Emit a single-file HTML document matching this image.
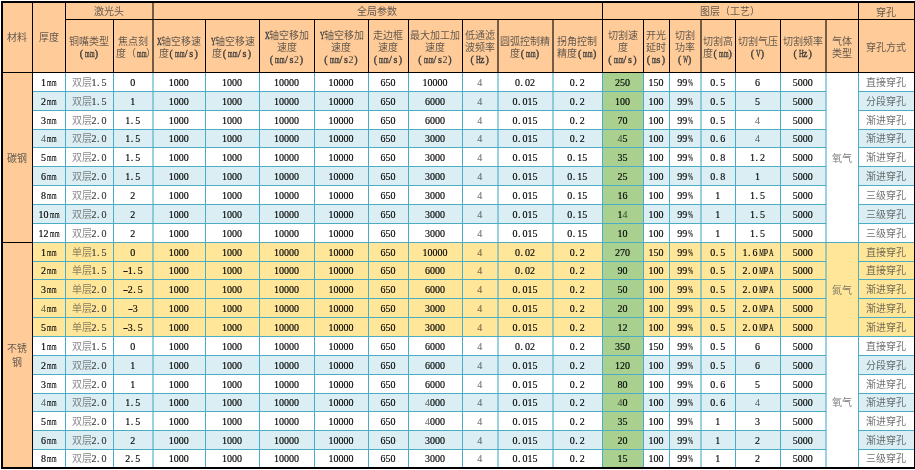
<!DOCTYPE html>
<html lang="zh-CN"><head><meta charset="utf-8"><style>
html,body{margin:0;padding:0;background:#fff;width:915px;height:470px;overflow:hidden}
body{position:relative;font-family:"Liberation Serif",serif;font-size:10px;color:#000}
.r{position:absolute}
#tx{position:absolute;left:0;top:0;width:915px;height:470px;will-change:transform}
.t{-webkit-text-stroke:.15px currentColor;position:absolute;text-align:center;white-space:nowrap;overflow:hidden}
.h{position:absolute;text-align:center;white-space:nowrap;color:#3a3a3a;box-sizing:content-box}
i{font-style:normal;display:inline-block;width:5px;text-align:center;position:relative}
i.d{text-align:left;text-indent:.5px}
b{font-weight:normal;display:inline-block;width:5px;text-align:center;position:relative}
b{transform-origin:50% 50%}
u{text-decoration:none;opacity:var(--co,.72);-webkit-text-stroke:0}
s{text-decoration:none;opacity:.55}
.h u{opacity:.8}
.h i{-webkit-text-stroke:.35px currentColor}
</style></head><body>
<div class="r" style="left:2px;top:2px;width:912px;height:70px;background:#FFCC99;"></div>
<div class="r" style="left:2px;top:72px;width:30px;height:395px;background:#FFCC99;"></div>
<div class="r" style="left:32px;top:72px;width:882px;height:19px;background:#FFFFFF;"></div>
<div class="r" style="left:32px;top:91px;width:882px;height:19px;background:#DAEEF3;"></div>
<div class="r" style="left:32px;top:110px;width:882px;height:19px;background:#FFFFFF;"></div>
<div class="r" style="left:32px;top:129px;width:882px;height:18px;background:#DAEEF3;"></div>
<div class="r" style="left:32px;top:147px;width:882px;height:19px;background:#FFFFFF;"></div>
<div class="r" style="left:32px;top:166px;width:882px;height:19px;background:#DAEEF3;"></div>
<div class="r" style="left:32px;top:185px;width:882px;height:19px;background:#FFFFFF;"></div>
<div class="r" style="left:32px;top:204px;width:882px;height:19px;background:#DAEEF3;"></div>
<div class="r" style="left:32px;top:223px;width:882px;height:19px;background:#FFFFFF;"></div>
<div class="r" style="left:32px;top:242px;width:882px;height:19px;background:#FFE699;"></div>
<div class="r" style="left:32px;top:261px;width:882px;height:18px;background:#FFE699;"></div>
<div class="r" style="left:32px;top:279px;width:882px;height:19px;background:#FFE699;"></div>
<div class="r" style="left:32px;top:298px;width:882px;height:19px;background:#FFE699;"></div>
<div class="r" style="left:32px;top:317px;width:882px;height:19px;background:#FFE699;"></div>
<div class="r" style="left:32px;top:336px;width:882px;height:19px;background:#FFFFFF;"></div>
<div class="r" style="left:32px;top:355px;width:882px;height:19px;background:#DAEEF3;"></div>
<div class="r" style="left:32px;top:374px;width:882px;height:19px;background:#FFFFFF;"></div>
<div class="r" style="left:32px;top:393px;width:882px;height:18px;background:#DAEEF3;"></div>
<div class="r" style="left:32px;top:411px;width:882px;height:19px;background:#FFFFFF;"></div>
<div class="r" style="left:32px;top:430px;width:882px;height:19px;background:#DAEEF3;"></div>
<div class="r" style="left:32px;top:449px;width:882px;height:18px;background:#FFFFFF;"></div>
<div class="r" style="left:602px;top:72px;width:41px;height:395px;background:#A9D08E;"></div>
<div class="r" style="left:825.5px;top:72px;width:32.5px;height:170px;background:#FFFFFF;"></div>
<div class="r" style="left:825.5px;top:242px;width:32.5px;height:94px;background:#FFE699;"></div>
<div class="r" style="left:825.5px;top:336px;width:32.5px;height:131px;background:#FFFFFF;"></div>
<div class="r" style="left:32px;top:91px;width:794px;height:1px;background:#4BACC6"></div>
<div class="r" style="left:858px;top:91px;width:56px;height:1px;background:#4BACC6"></div>
<div class="r" style="left:32px;top:110px;width:794px;height:1px;background:#4BACC6"></div>
<div class="r" style="left:858px;top:110px;width:56px;height:1px;background:#4BACC6"></div>
<div class="r" style="left:32px;top:129px;width:794px;height:1px;background:#4BACC6"></div>
<div class="r" style="left:858px;top:129px;width:56px;height:1px;background:#4BACC6"></div>
<div class="r" style="left:32px;top:147px;width:794px;height:1px;background:#4BACC6"></div>
<div class="r" style="left:858px;top:147px;width:56px;height:1px;background:#4BACC6"></div>
<div class="r" style="left:32px;top:166px;width:794px;height:1px;background:#4BACC6"></div>
<div class="r" style="left:858px;top:166px;width:56px;height:1px;background:#4BACC6"></div>
<div class="r" style="left:32px;top:185px;width:794px;height:1px;background:#4BACC6"></div>
<div class="r" style="left:858px;top:185px;width:56px;height:1px;background:#4BACC6"></div>
<div class="r" style="left:32px;top:204px;width:794px;height:1px;background:#4BACC6"></div>
<div class="r" style="left:858px;top:204px;width:56px;height:1px;background:#4BACC6"></div>
<div class="r" style="left:32px;top:223px;width:794px;height:1px;background:#4BACC6"></div>
<div class="r" style="left:858px;top:223px;width:56px;height:1px;background:#4BACC6"></div>
<div class="r" style="left:32px;top:242px;width:794px;height:1px;background:#4BACC6"></div>
<div class="r" style="left:858px;top:242px;width:56px;height:1px;background:#4BACC6"></div>
<div class="r" style="left:32px;top:261px;width:794px;height:1px;background:#4BACC6"></div>
<div class="r" style="left:858px;top:261px;width:56px;height:1px;background:#4BACC6"></div>
<div class="r" style="left:32px;top:279px;width:794px;height:1px;background:#4BACC6"></div>
<div class="r" style="left:858px;top:279px;width:56px;height:1px;background:#4BACC6"></div>
<div class="r" style="left:32px;top:298px;width:794px;height:1px;background:#4BACC6"></div>
<div class="r" style="left:858px;top:298px;width:56px;height:1px;background:#4BACC6"></div>
<div class="r" style="left:32px;top:317px;width:794px;height:1px;background:#4BACC6"></div>
<div class="r" style="left:858px;top:317px;width:56px;height:1px;background:#4BACC6"></div>
<div class="r" style="left:32px;top:336px;width:794px;height:1px;background:#4BACC6"></div>
<div class="r" style="left:858px;top:336px;width:56px;height:1px;background:#4BACC6"></div>
<div class="r" style="left:32px;top:355px;width:794px;height:1px;background:#4BACC6"></div>
<div class="r" style="left:858px;top:355px;width:56px;height:1px;background:#4BACC6"></div>
<div class="r" style="left:32px;top:374px;width:794px;height:1px;background:#4BACC6"></div>
<div class="r" style="left:858px;top:374px;width:56px;height:1px;background:#4BACC6"></div>
<div class="r" style="left:32px;top:393px;width:794px;height:1px;background:#4BACC6"></div>
<div class="r" style="left:858px;top:393px;width:56px;height:1px;background:#4BACC6"></div>
<div class="r" style="left:32px;top:411px;width:794px;height:1px;background:#4BACC6"></div>
<div class="r" style="left:858px;top:411px;width:56px;height:1px;background:#4BACC6"></div>
<div class="r" style="left:32px;top:430px;width:794px;height:1px;background:#4BACC6"></div>
<div class="r" style="left:858px;top:430px;width:56px;height:1px;background:#4BACC6"></div>
<div class="r" style="left:32px;top:449px;width:794px;height:1px;background:#4BACC6"></div>
<div class="r" style="left:858px;top:449px;width:56px;height:1px;background:#4BACC6"></div>
<div class="r" style="left:825px;top:242px;width:33px;height:1px;background:#4BACC6"></div>
<div class="r" style="left:825px;top:336px;width:33px;height:1px;background:#4BACC6"></div>
<div class="r" style="left:65px;top:72px;width:1px;height:395px;background:#4BACC6"></div>
<div class="r" style="left:113px;top:72px;width:1px;height:395px;background:#4BACC6"></div>
<div class="r" style="left:152px;top:72px;width:2px;height:395px;background:#4BACC6;opacity:.55"></div>
<div class="r" style="left:205px;top:72px;width:1px;height:395px;background:#4BACC6"></div>
<div class="r" style="left:259px;top:72px;width:1px;height:395px;background:#4BACC6"></div>
<div class="r" style="left:314px;top:72px;width:1px;height:395px;background:#4BACC6"></div>
<div class="r" style="left:368px;top:72px;width:1px;height:395px;background:#4BACC6"></div>
<div class="r" style="left:408px;top:72px;width:1px;height:395px;background:#4BACC6"></div>
<div class="r" style="left:462px;top:72px;width:1px;height:395px;background:#4BACC6"></div>
<div class="r" style="left:497px;top:72px;width:2px;height:395px;background:#4BACC6;opacity:.55"></div>
<div class="r" style="left:552px;top:72px;width:2px;height:395px;background:#4BACC6;opacity:.55"></div>
<div class="r" style="left:602px;top:72px;width:1px;height:395px;background:#4BACC6"></div>
<div class="r" style="left:643px;top:72px;width:1px;height:395px;background:#4BACC6"></div>
<div class="r" style="left:669px;top:72px;width:1px;height:395px;background:#4BACC6"></div>
<div class="r" style="left:700px;top:72px;width:2px;height:395px;background:#4BACC6;opacity:.55"></div>
<div class="r" style="left:735px;top:72px;width:1px;height:395px;background:#4BACC6"></div>
<div class="r" style="left:780px;top:72px;width:1px;height:395px;background:#4BACC6"></div>
<div class="r" style="left:825px;top:72px;width:2px;height:395px;background:#4BACC6;opacity:.55"></div>
<div class="r" style="left:858px;top:72px;width:1px;height:395px;background:#4BACC6"></div>
<div class="r" style="left:32px;top:2px;width:1px;height:465px;background:#000000"></div>
<div class="r" style="left:65px;top:2px;width:1px;height:70px;background:#000000"></div>
<div class="r" style="left:113px;top:19px;width:1px;height:53px;background:#000000"></div>
<div class="r" style="left:152px;top:2px;width:2px;height:70px;background:#000000;opacity:.55"></div>
<div class="r" style="left:205px;top:19px;width:1px;height:53px;background:#000000"></div>
<div class="r" style="left:259px;top:19px;width:1px;height:53px;background:#000000"></div>
<div class="r" style="left:314px;top:19px;width:1px;height:53px;background:#000000"></div>
<div class="r" style="left:368px;top:19px;width:1px;height:53px;background:#000000"></div>
<div class="r" style="left:408px;top:19px;width:1px;height:53px;background:#000000"></div>
<div class="r" style="left:462px;top:19px;width:1px;height:53px;background:#000000"></div>
<div class="r" style="left:497px;top:19px;width:2px;height:53px;background:#000000;opacity:.55"></div>
<div class="r" style="left:552px;top:19px;width:2px;height:53px;background:#000000;opacity:.55"></div>
<div class="r" style="left:602px;top:2px;width:1px;height:70px;background:#000000"></div>
<div class="r" style="left:643px;top:19px;width:1px;height:53px;background:#000000"></div>
<div class="r" style="left:669px;top:19px;width:1px;height:53px;background:#000000"></div>
<div class="r" style="left:700px;top:19px;width:2px;height:53px;background:#000000;opacity:.55"></div>
<div class="r" style="left:735px;top:19px;width:1px;height:53px;background:#000000"></div>
<div class="r" style="left:780px;top:19px;width:1px;height:53px;background:#000000"></div>
<div class="r" style="left:825px;top:19px;width:2px;height:53px;background:#000000;opacity:.55"></div>
<div class="r" style="left:858px;top:2px;width:1px;height:70px;background:#000000"></div>
<div class="r" style="left:65px;top:19px;width:849px;height:1px;background:#000000"></div>
<div class="r" style="left:2px;top:72px;width:912px;height:1px;background:#000000"></div>
<div class="r" style="left:2px;top:242px;width:30px;height:1px;background:#000000"></div>
<div class="r" style="left:1px;top:1px;width:915px;height:468px;border:2px solid #000;box-sizing:border-box;background:transparent"></div>
<div id="tx"><div class="h" style="left:2px;top:2px;width:30px;height:70px;padding-top:30.25px;line-height:12.5px;height:39.75px;"><u>材料</u></div>
<div class="h" style="left:32px;top:2px;width:33px;height:70px;padding-top:30.25px;line-height:12.5px;height:39.75px;"><u>厚度</u></div>
<div class="h" style="left:65px;top:2px;width:87.5px;height:17px;padding-top:4.25px;line-height:12.5px;height:12.75px;"><u>激光头</u></div>
<div class="h" style="left:152.5px;top:2px;width:449.5px;height:17px;padding-top:4.25px;line-height:12.5px;height:12.75px;"><u>全局参数</u></div>
<div class="h" style="left:602px;top:2px;width:256px;height:17px;padding-top:4.25px;line-height:12.5px;height:12.75px;"><u>图层（工艺）</u></div>
<div class="h" style="left:858px;top:2px;width:56px;height:17px;padding-top:4.75px;line-height:12.5px;height:12.25px;"><u>穿孔</u></div>
<div class="h" style="left:65px;top:19px;width:48px;height:53px;padding-top:17.0px;line-height:12px;height:36.0px;"><u>铜嘴类型</u><br><i>(</i><i><b style="transform:scaleX(0.59)">m</b></i><i><b style="transform:scaleX(0.59)">m</b></i><i>)</i></div>
<div class="h" style="left:113px;top:19px;width:39.5px;height:53px;padding-top:17.0px;line-height:12px;height:36.0px;"><u>焦点刻</u><br><span style="position:relative;left:2.5px"><u>度（</u><i><b style="transform:scaleX(0.59)">m</b></i><i><b style="transform:scaleX(0.59)">m</b></i><u>）</u></span></div>
<div class="h" style="left:152.5px;top:19px;width:52.5px;height:53px;padding-top:17.0px;line-height:12px;height:36.0px;"><i><b style="transform:scaleX(0.64)">X</b></i><u>轴空移速</u><br><u>度</u><i>(</i><i><b style="transform:scaleX(0.59)">m</b></i><i><b style="transform:scaleX(0.59)">m</b></i><i>/</i><i>s</i><i>)</i></div>
<div class="h" style="left:205px;top:19px;width:54px;height:53px;padding-top:17.0px;line-height:12px;height:36.0px;"><i><b style="transform:scaleX(0.64)">Y</b></i><u>轴空移速</u><br><u>度</u><i>(</i><i><b style="transform:scaleX(0.59)">m</b></i><i><b style="transform:scaleX(0.59)">m</b></i><i>/</i><i>s</i><i>)</i></div>
<div class="h" style="left:259px;top:19px;width:55px;height:53px;padding-top:11.0px;line-height:12px;height:42.0px;"><i><b style="transform:scaleX(0.64)">X</b></i><u>轴空移加</u><br><u>速度</u><br><i>(</i><i><b style="transform:scaleX(0.59)">m</b></i><i><b style="transform:scaleX(0.59)">m</b></i><i>/</i><i>s</i>2<i>)</i></div>
<div class="h" style="left:314px;top:19px;width:54px;height:53px;padding-top:11.0px;line-height:12px;height:42.0px;"><i><b style="transform:scaleX(0.64)">Y</b></i><u>轴空移加</u><br><u>速度</u><br><i>(</i><i><b style="transform:scaleX(0.59)">m</b></i><i><b style="transform:scaleX(0.59)">m</b></i><i>/</i><i>s</i>2<i>)</i></div>
<div class="h" style="left:368px;top:19px;width:40px;height:53px;padding-top:11.0px;line-height:12px;height:42.0px;"><u>走边框</u><br><u>速度</u><br><i>(</i><i><b style="transform:scaleX(0.59)">m</b></i><i><b style="transform:scaleX(0.59)">m</b></i><i>/</i><i>s</i><i>)</i></div>
<div class="h" style="left:408px;top:19px;width:54px;height:53px;padding-top:11.0px;line-height:12px;height:42.0px;"><u>最大加工加</u><br><u>速度</u><br><i>(</i><i><b style="transform:scaleX(0.59)">m</b></i><i><b style="transform:scaleX(0.59)">m</b></i><i>/</i><i>s</i>2<i>)</i></div>
<div class="h" style="left:462px;top:19px;width:35.5px;height:53px;padding-top:11.0px;line-height:12px;height:42.0px;"><u>低通滤</u><br><u>波频率</u><br><i>(</i><i><b style="transform:scaleX(0.64)">H</b></i><i>z</i><i>)</i></div>
<div class="h" style="left:497.5px;top:19px;width:55.0px;height:53px;padding-top:17.0px;line-height:12px;height:36.0px;"><u>圆弧控制精</u><br><u>度</u><i>(</i><i><b style="transform:scaleX(0.59)">m</b></i><i><b style="transform:scaleX(0.59)">m</b></i><i>)</i></div>
<div class="h" style="left:552.5px;top:19px;width:49.5px;height:53px;padding-top:17.0px;line-height:12px;height:36.0px;"><u>拐角控制</u><br><u>精度</u><i>(</i><i><b style="transform:scaleX(0.59)">m</b></i><i><b style="transform:scaleX(0.59)">m</b></i><i>)</i></div>
<div class="h" style="left:602px;top:19px;width:41px;height:53px;padding-top:11.0px;line-height:12px;height:42.0px;"><u>切割速</u><br><u>度</u><br><i>(</i><i><b style="transform:scaleX(0.59)">m</b></i><i><b style="transform:scaleX(0.59)">m</b></i><i>/</i><i>s</i><i>)</i></div>
<div class="h" style="left:643px;top:19px;width:26px;height:53px;padding-top:11.0px;line-height:12px;height:42.0px;"><u>开光</u><br><u>延时</u><br><i>(</i><i><b style="transform:scaleX(0.59)">m</b></i><i>s</i><i>)</i></div>
<div class="h" style="left:669px;top:19px;width:31.5px;height:53px;padding-top:11.0px;line-height:12px;height:42.0px;"><u>切割</u><br><u>功率</u><br><i>(</i><i><b style="transform:scaleX(0.49)">W</b></i><i>)</i></div>
<div class="h" style="left:700.5px;top:19px;width:34.5px;height:53px;padding-top:17.0px;line-height:12px;height:36.0px;"><u>切割高</u><br><u>度</u><i>(</i><i><b style="transform:scaleX(0.59)">m</b></i><i><b style="transform:scaleX(0.59)">m</b></i><i>)</i></div>
<div class="h" style="left:735px;top:19px;width:45px;height:53px;padding-top:17.0px;line-height:12px;height:36.0px;"><u>切割气压</u><br><i>(</i><i><b style="transform:scaleX(0.64)">V</b></i><i>)</i></div>
<div class="h" style="left:780px;top:19px;width:45.5px;height:53px;padding-top:17.0px;line-height:12px;height:36.0px;"><u>切割频率</u><br><i>(</i><i><b style="transform:scaleX(0.64)">H</b></i><i>z</i><i>)</i></div>
<div class="h" style="left:825.5px;top:19px;width:32.5px;height:53px;padding-top:17.0px;line-height:12px;height:36.0px;"><u>气体</u><br><u>类型</u></div>
<div class="h" style="left:858px;top:19px;width:56px;height:53px;padding-top:23.0px;line-height:12px;height:30.0px;"><u>穿孔方式</u></div>
<div class="h" style="left:2px;top:72px;width:30px;height:170px;padding-top:80.75px;line-height:12.5px;height:89.25px;color:#404040;"><u>碳钢</u></div>
<div class="h" style="left:2px;top:242px;width:30px;height:225px;padding-top:100.0px;line-height:14px;height:125.0px;color:#404040;"><u>不锈</u><br><u>钢</u></div>
<div class="h" style="left:825.5px;top:72px;width:32.5px;height:170px;padding-top:80.75px;line-height:12.5px;height:89.25px;color:#595959;"><u>氧气</u></div>
<div class="h" style="left:825.5px;top:242px;width:32.5px;height:94px;padding-top:42.75px;line-height:12.5px;height:51.25px;color:#595959;"><u>氮气</u></div>
<div class="h" style="left:825.5px;top:336px;width:32.5px;height:131px;padding-top:61.25px;line-height:12.5px;height:69.75px;color:#595959;"><u>氧气</u></div>
<div class="t" style="left:32px;top:73px;width:33px;height:19px;line-height:19px;">1<i><b style="transform:scaleX(0.59)">m</b></i><i><b style="transform:scaleX(0.59)">m</b></i></div>
<div class="t" style="left:65px;top:73px;width:48px;height:19px;line-height:19px;color:#3a3a3a;--co:.6;"><u>双层</u>1<i class="d">.</i>5</div>
<div class="t" style="left:113px;top:73px;width:39.5px;height:19px;line-height:19px;">0</div>
<div class="t" style="left:152.5px;top:73px;width:52.5px;height:19px;line-height:19px;">1000</div>
<div class="t" style="left:205px;top:73px;width:54px;height:19px;line-height:19px;">1000</div>
<div class="t" style="left:259px;top:73px;width:55px;height:19px;line-height:19px;">10000</div>
<div class="t" style="left:314px;top:73px;width:54px;height:19px;line-height:19px;">10000</div>
<div class="t" style="left:368px;top:73px;width:40px;height:19px;line-height:19px;">650</div>
<div class="t" style="left:408px;top:73px;width:54px;height:19px;line-height:19px;">10000</div>
<div class="t" style="left:462px;top:73px;width:35.5px;height:19px;line-height:19px;"><s>4</s></div>
<div class="t" style="left:497.5px;top:73px;width:55.0px;height:19px;line-height:19px;">0<i class="d">.</i>02</div>
<div class="t" style="left:552.5px;top:73px;width:49.5px;height:19px;line-height:19px;">0<i class="d">.</i>2</div>
<div class="t" style="left:602px;top:73px;width:41px;height:19px;line-height:19px;">250</div>
<div class="t" style="left:643px;top:73px;width:26px;height:19px;line-height:19px;">150</div>
<div class="t" style="left:669px;top:73px;width:31.5px;height:19px;line-height:19px;">99<i><b style="transform:scaleX(0.55)">%</b></i></div>
<div class="t" style="left:700.5px;top:73px;width:34.5px;height:19px;line-height:19px;">0<i class="d">.</i>5</div>
<div class="t" style="left:735px;top:73px;width:45px;height:19px;line-height:19px;">6</div>
<div class="t" style="left:780px;top:73px;width:45.5px;height:19px;line-height:19px;">5000</div>
<div class="t" style="left:858px;top:73px;width:56px;height:19px;line-height:19px;color:#383838;"><u>直接穿孔</u></div>
<div class="t" style="left:32px;top:92px;width:33px;height:19px;line-height:19px;">2<i><b style="transform:scaleX(0.59)">m</b></i><i><b style="transform:scaleX(0.59)">m</b></i></div>
<div class="t" style="left:65px;top:92px;width:48px;height:19px;line-height:19px;color:#3a3a3a;--co:.6;"><u>双层</u>1<i class="d">.</i>5</div>
<div class="t" style="left:113px;top:92px;width:39.5px;height:19px;line-height:19px;">1</div>
<div class="t" style="left:152.5px;top:92px;width:52.5px;height:19px;line-height:19px;">1000</div>
<div class="t" style="left:205px;top:92px;width:54px;height:19px;line-height:19px;">1000</div>
<div class="t" style="left:259px;top:92px;width:55px;height:19px;line-height:19px;">10000</div>
<div class="t" style="left:314px;top:92px;width:54px;height:19px;line-height:19px;">10000</div>
<div class="t" style="left:368px;top:92px;width:40px;height:19px;line-height:19px;">650</div>
<div class="t" style="left:408px;top:92px;width:54px;height:19px;line-height:19px;">6000</div>
<div class="t" style="left:462px;top:92px;width:35.5px;height:19px;line-height:19px;"><s>4</s></div>
<div class="t" style="left:497.5px;top:92px;width:55.0px;height:19px;line-height:19px;">0<i class="d">.</i>015</div>
<div class="t" style="left:552.5px;top:92px;width:49.5px;height:19px;line-height:19px;">0<i class="d">.</i>2</div>
<div class="t" style="left:602px;top:92px;width:41px;height:19px;line-height:19px;">100</div>
<div class="t" style="left:643px;top:92px;width:26px;height:19px;line-height:19px;">100</div>
<div class="t" style="left:669px;top:92px;width:31.5px;height:19px;line-height:19px;">99<i><b style="transform:scaleX(0.55)">%</b></i></div>
<div class="t" style="left:700.5px;top:92px;width:34.5px;height:19px;line-height:19px;">0<i class="d">.</i>5</div>
<div class="t" style="left:735px;top:92px;width:45px;height:19px;line-height:19px;">5</div>
<div class="t" style="left:780px;top:92px;width:45.5px;height:19px;line-height:19px;">5000</div>
<div class="t" style="left:858px;top:92px;width:56px;height:19px;line-height:19px;color:#383838;"><u>分段穿孔</u></div>
<div class="t" style="left:32px;top:111px;width:33px;height:19px;line-height:19px;">3<i><b style="transform:scaleX(0.59)">m</b></i><i><b style="transform:scaleX(0.59)">m</b></i></div>
<div class="t" style="left:65px;top:111px;width:48px;height:19px;line-height:19px;color:#3a3a3a;--co:.6;"><u>双层</u>2<i class="d">.</i>0</div>
<div class="t" style="left:113px;top:111px;width:39.5px;height:19px;line-height:19px;">1<i class="d">.</i>5</div>
<div class="t" style="left:152.5px;top:111px;width:52.5px;height:19px;line-height:19px;">1000</div>
<div class="t" style="left:205px;top:111px;width:54px;height:19px;line-height:19px;">1000</div>
<div class="t" style="left:259px;top:111px;width:55px;height:19px;line-height:19px;">10000</div>
<div class="t" style="left:314px;top:111px;width:54px;height:19px;line-height:19px;">10000</div>
<div class="t" style="left:368px;top:111px;width:40px;height:19px;line-height:19px;">650</div>
<div class="t" style="left:408px;top:111px;width:54px;height:19px;line-height:19px;">6000</div>
<div class="t" style="left:462px;top:111px;width:35.5px;height:19px;line-height:19px;"><s>4</s></div>
<div class="t" style="left:497.5px;top:111px;width:55.0px;height:19px;line-height:19px;">0<i class="d">.</i>015</div>
<div class="t" style="left:552.5px;top:111px;width:49.5px;height:19px;line-height:19px;">0<i class="d">.</i>2</div>
<div class="t" style="left:602px;top:111px;width:41px;height:19px;line-height:19px;">70</div>
<div class="t" style="left:643px;top:111px;width:26px;height:19px;line-height:19px;">100</div>
<div class="t" style="left:669px;top:111px;width:31.5px;height:19px;line-height:19px;">99<i><b style="transform:scaleX(0.55)">%</b></i></div>
<div class="t" style="left:700.5px;top:111px;width:34.5px;height:19px;line-height:19px;">0<i class="d">.</i>5</div>
<div class="t" style="left:735px;top:111px;width:45px;height:19px;line-height:19px;"><s>4</s></div>
<div class="t" style="left:780px;top:111px;width:45.5px;height:19px;line-height:19px;">5000</div>
<div class="t" style="left:858px;top:111px;width:56px;height:19px;line-height:19px;color:#383838;"><u>渐进穿孔</u></div>
<div class="t" style="left:32px;top:130px;width:33px;height:18px;line-height:18px;"><s>4</s><i><b style="transform:scaleX(0.59)">m</b></i><i><b style="transform:scaleX(0.59)">m</b></i></div>
<div class="t" style="left:65px;top:130px;width:48px;height:18px;line-height:18px;color:#3a3a3a;--co:.6;"><u>双层</u>2<i class="d">.</i>0</div>
<div class="t" style="left:113px;top:130px;width:39.5px;height:18px;line-height:18px;">1<i class="d">.</i>5</div>
<div class="t" style="left:152.5px;top:130px;width:52.5px;height:18px;line-height:18px;">1000</div>
<div class="t" style="left:205px;top:130px;width:54px;height:18px;line-height:18px;">1000</div>
<div class="t" style="left:259px;top:130px;width:55px;height:18px;line-height:18px;">10000</div>
<div class="t" style="left:314px;top:130px;width:54px;height:18px;line-height:18px;">10000</div>
<div class="t" style="left:368px;top:130px;width:40px;height:18px;line-height:18px;">650</div>
<div class="t" style="left:408px;top:130px;width:54px;height:18px;line-height:18px;">3000</div>
<div class="t" style="left:462px;top:130px;width:35.5px;height:18px;line-height:18px;"><s>4</s></div>
<div class="t" style="left:497.5px;top:130px;width:55.0px;height:18px;line-height:18px;">0<i class="d">.</i>015</div>
<div class="t" style="left:552.5px;top:130px;width:49.5px;height:18px;line-height:18px;">0<i class="d">.</i>2</div>
<div class="t" style="left:602px;top:130px;width:41px;height:18px;line-height:18px;"><s>4</s>5</div>
<div class="t" style="left:643px;top:130px;width:26px;height:18px;line-height:18px;">100</div>
<div class="t" style="left:669px;top:130px;width:31.5px;height:18px;line-height:18px;">99<i><b style="transform:scaleX(0.55)">%</b></i></div>
<div class="t" style="left:700.5px;top:130px;width:34.5px;height:18px;line-height:18px;">0<i class="d">.</i>6</div>
<div class="t" style="left:735px;top:130px;width:45px;height:18px;line-height:18px;"><s>4</s></div>
<div class="t" style="left:780px;top:130px;width:45.5px;height:18px;line-height:18px;">5000</div>
<div class="t" style="left:858px;top:130px;width:56px;height:18px;line-height:18px;color:#383838;"><u>渐进穿孔</u></div>
<div class="t" style="left:32px;top:148px;width:33px;height:19px;line-height:19px;">5<i><b style="transform:scaleX(0.59)">m</b></i><i><b style="transform:scaleX(0.59)">m</b></i></div>
<div class="t" style="left:65px;top:148px;width:48px;height:19px;line-height:19px;color:#3a3a3a;--co:.6;"><u>双层</u>2<i class="d">.</i>0</div>
<div class="t" style="left:113px;top:148px;width:39.5px;height:19px;line-height:19px;">1<i class="d">.</i>5</div>
<div class="t" style="left:152.5px;top:148px;width:52.5px;height:19px;line-height:19px;">1000</div>
<div class="t" style="left:205px;top:148px;width:54px;height:19px;line-height:19px;">1000</div>
<div class="t" style="left:259px;top:148px;width:55px;height:19px;line-height:19px;">10000</div>
<div class="t" style="left:314px;top:148px;width:54px;height:19px;line-height:19px;">10000</div>
<div class="t" style="left:368px;top:148px;width:40px;height:19px;line-height:19px;">650</div>
<div class="t" style="left:408px;top:148px;width:54px;height:19px;line-height:19px;">3000</div>
<div class="t" style="left:462px;top:148px;width:35.5px;height:19px;line-height:19px;"><s>4</s></div>
<div class="t" style="left:497.5px;top:148px;width:55.0px;height:19px;line-height:19px;">0<i class="d">.</i>015</div>
<div class="t" style="left:552.5px;top:148px;width:49.5px;height:19px;line-height:19px;">0<i class="d">.</i>15</div>
<div class="t" style="left:602px;top:148px;width:41px;height:19px;line-height:19px;">35</div>
<div class="t" style="left:643px;top:148px;width:26px;height:19px;line-height:19px;">100</div>
<div class="t" style="left:669px;top:148px;width:31.5px;height:19px;line-height:19px;">99<i><b style="transform:scaleX(0.55)">%</b></i></div>
<div class="t" style="left:700.5px;top:148px;width:34.5px;height:19px;line-height:19px;">0<i class="d">.</i>8</div>
<div class="t" style="left:735px;top:148px;width:45px;height:19px;line-height:19px;">1<i class="d">.</i>2</div>
<div class="t" style="left:780px;top:148px;width:45.5px;height:19px;line-height:19px;">5000</div>
<div class="t" style="left:858px;top:148px;width:56px;height:19px;line-height:19px;color:#383838;"><u>渐进穿孔</u></div>
<div class="t" style="left:32px;top:167px;width:33px;height:19px;line-height:19px;">6<i><b style="transform:scaleX(0.59)">m</b></i><i><b style="transform:scaleX(0.59)">m</b></i></div>
<div class="t" style="left:65px;top:167px;width:48px;height:19px;line-height:19px;color:#3a3a3a;--co:.6;"><u>双层</u>2<i class="d">.</i>0</div>
<div class="t" style="left:113px;top:167px;width:39.5px;height:19px;line-height:19px;">1<i class="d">.</i>5</div>
<div class="t" style="left:152.5px;top:167px;width:52.5px;height:19px;line-height:19px;">1000</div>
<div class="t" style="left:205px;top:167px;width:54px;height:19px;line-height:19px;">1000</div>
<div class="t" style="left:259px;top:167px;width:55px;height:19px;line-height:19px;">10000</div>
<div class="t" style="left:314px;top:167px;width:54px;height:19px;line-height:19px;">10000</div>
<div class="t" style="left:368px;top:167px;width:40px;height:19px;line-height:19px;">650</div>
<div class="t" style="left:408px;top:167px;width:54px;height:19px;line-height:19px;">3000</div>
<div class="t" style="left:462px;top:167px;width:35.5px;height:19px;line-height:19px;"><s>4</s></div>
<div class="t" style="left:497.5px;top:167px;width:55.0px;height:19px;line-height:19px;">0<i class="d">.</i>015</div>
<div class="t" style="left:552.5px;top:167px;width:49.5px;height:19px;line-height:19px;">0<i class="d">.</i>15</div>
<div class="t" style="left:602px;top:167px;width:41px;height:19px;line-height:19px;">25</div>
<div class="t" style="left:643px;top:167px;width:26px;height:19px;line-height:19px;">100</div>
<div class="t" style="left:669px;top:167px;width:31.5px;height:19px;line-height:19px;">99<i><b style="transform:scaleX(0.55)">%</b></i></div>
<div class="t" style="left:700.5px;top:167px;width:34.5px;height:19px;line-height:19px;">0<i class="d">.</i>8</div>
<div class="t" style="left:735px;top:167px;width:45px;height:19px;line-height:19px;">1</div>
<div class="t" style="left:780px;top:167px;width:45.5px;height:19px;line-height:19px;">5000</div>
<div class="t" style="left:858px;top:167px;width:56px;height:19px;line-height:19px;color:#383838;"><u>渐进穿孔</u></div>
<div class="t" style="left:32px;top:186px;width:33px;height:19px;line-height:19px;">8<i><b style="transform:scaleX(0.59)">m</b></i><i><b style="transform:scaleX(0.59)">m</b></i></div>
<div class="t" style="left:65px;top:186px;width:48px;height:19px;line-height:19px;color:#3a3a3a;--co:.6;"><u>双层</u>2<i class="d">.</i>0</div>
<div class="t" style="left:113px;top:186px;width:39.5px;height:19px;line-height:19px;">2</div>
<div class="t" style="left:152.5px;top:186px;width:52.5px;height:19px;line-height:19px;">1000</div>
<div class="t" style="left:205px;top:186px;width:54px;height:19px;line-height:19px;">1000</div>
<div class="t" style="left:259px;top:186px;width:55px;height:19px;line-height:19px;">10000</div>
<div class="t" style="left:314px;top:186px;width:54px;height:19px;line-height:19px;">10000</div>
<div class="t" style="left:368px;top:186px;width:40px;height:19px;line-height:19px;">650</div>
<div class="t" style="left:408px;top:186px;width:54px;height:19px;line-height:19px;">3000</div>
<div class="t" style="left:462px;top:186px;width:35.5px;height:19px;line-height:19px;"><s>4</s></div>
<div class="t" style="left:497.5px;top:186px;width:55.0px;height:19px;line-height:19px;">0<i class="d">.</i>015</div>
<div class="t" style="left:552.5px;top:186px;width:49.5px;height:19px;line-height:19px;">0<i class="d">.</i>15</div>
<div class="t" style="left:602px;top:186px;width:41px;height:19px;line-height:19px;">16</div>
<div class="t" style="left:643px;top:186px;width:26px;height:19px;line-height:19px;">100</div>
<div class="t" style="left:669px;top:186px;width:31.5px;height:19px;line-height:19px;">99<i><b style="transform:scaleX(0.55)">%</b></i></div>
<div class="t" style="left:700.5px;top:186px;width:34.5px;height:19px;line-height:19px;">1</div>
<div class="t" style="left:735px;top:186px;width:45px;height:19px;line-height:19px;">1<i class="d">.</i>5</div>
<div class="t" style="left:780px;top:186px;width:45.5px;height:19px;line-height:19px;">5000</div>
<div class="t" style="left:858px;top:186px;width:56px;height:19px;line-height:19px;color:#383838;"><u>三级穿孔</u></div>
<div class="t" style="left:32px;top:205px;width:33px;height:19px;line-height:19px;">10<i><b style="transform:scaleX(0.59)">m</b></i><i><b style="transform:scaleX(0.59)">m</b></i></div>
<div class="t" style="left:65px;top:205px;width:48px;height:19px;line-height:19px;color:#3a3a3a;--co:.6;"><u>双层</u>2<i class="d">.</i>0</div>
<div class="t" style="left:113px;top:205px;width:39.5px;height:19px;line-height:19px;">2</div>
<div class="t" style="left:152.5px;top:205px;width:52.5px;height:19px;line-height:19px;">1000</div>
<div class="t" style="left:205px;top:205px;width:54px;height:19px;line-height:19px;">1000</div>
<div class="t" style="left:259px;top:205px;width:55px;height:19px;line-height:19px;">10000</div>
<div class="t" style="left:314px;top:205px;width:54px;height:19px;line-height:19px;">10000</div>
<div class="t" style="left:368px;top:205px;width:40px;height:19px;line-height:19px;">650</div>
<div class="t" style="left:408px;top:205px;width:54px;height:19px;line-height:19px;">3000</div>
<div class="t" style="left:462px;top:205px;width:35.5px;height:19px;line-height:19px;"><s>4</s></div>
<div class="t" style="left:497.5px;top:205px;width:55.0px;height:19px;line-height:19px;">0<i class="d">.</i>015</div>
<div class="t" style="left:552.5px;top:205px;width:49.5px;height:19px;line-height:19px;">0<i class="d">.</i>15</div>
<div class="t" style="left:602px;top:205px;width:41px;height:19px;line-height:19px;">1<s>4</s></div>
<div class="t" style="left:643px;top:205px;width:26px;height:19px;line-height:19px;">100</div>
<div class="t" style="left:669px;top:205px;width:31.5px;height:19px;line-height:19px;">99<i><b style="transform:scaleX(0.55)">%</b></i></div>
<div class="t" style="left:700.5px;top:205px;width:34.5px;height:19px;line-height:19px;">1</div>
<div class="t" style="left:735px;top:205px;width:45px;height:19px;line-height:19px;">1<i class="d">.</i>5</div>
<div class="t" style="left:780px;top:205px;width:45.5px;height:19px;line-height:19px;">5000</div>
<div class="t" style="left:858px;top:205px;width:56px;height:19px;line-height:19px;color:#383838;"><u>三级穿孔</u></div>
<div class="t" style="left:32px;top:224px;width:33px;height:19px;line-height:19px;">12<i><b style="transform:scaleX(0.59)">m</b></i><i><b style="transform:scaleX(0.59)">m</b></i></div>
<div class="t" style="left:65px;top:224px;width:48px;height:19px;line-height:19px;color:#3a3a3a;--co:.6;"><u>双层</u>2<i class="d">.</i>0</div>
<div class="t" style="left:113px;top:224px;width:39.5px;height:19px;line-height:19px;">2</div>
<div class="t" style="left:152.5px;top:224px;width:52.5px;height:19px;line-height:19px;">1000</div>
<div class="t" style="left:205px;top:224px;width:54px;height:19px;line-height:19px;">1000</div>
<div class="t" style="left:259px;top:224px;width:55px;height:19px;line-height:19px;">10000</div>
<div class="t" style="left:314px;top:224px;width:54px;height:19px;line-height:19px;">10000</div>
<div class="t" style="left:368px;top:224px;width:40px;height:19px;line-height:19px;">650</div>
<div class="t" style="left:408px;top:224px;width:54px;height:19px;line-height:19px;">3000</div>
<div class="t" style="left:462px;top:224px;width:35.5px;height:19px;line-height:19px;"><s>4</s></div>
<div class="t" style="left:497.5px;top:224px;width:55.0px;height:19px;line-height:19px;">0<i class="d">.</i>015</div>
<div class="t" style="left:552.5px;top:224px;width:49.5px;height:19px;line-height:19px;">0<i class="d">.</i>15</div>
<div class="t" style="left:602px;top:224px;width:41px;height:19px;line-height:19px;">10</div>
<div class="t" style="left:643px;top:224px;width:26px;height:19px;line-height:19px;">100</div>
<div class="t" style="left:669px;top:224px;width:31.5px;height:19px;line-height:19px;">99<i><b style="transform:scaleX(0.55)">%</b></i></div>
<div class="t" style="left:700.5px;top:224px;width:34.5px;height:19px;line-height:19px;">1</div>
<div class="t" style="left:735px;top:224px;width:45px;height:19px;line-height:19px;">1<i class="d">.</i>5</div>
<div class="t" style="left:780px;top:224px;width:45.5px;height:19px;line-height:19px;">5000</div>
<div class="t" style="left:858px;top:224px;width:56px;height:19px;line-height:19px;color:#383838;"><u>三级穿孔</u></div>
<div class="t" style="left:32px;top:243px;width:33px;height:19px;line-height:19px;">1<i><b style="transform:scaleX(0.59)">m</b></i><i><b style="transform:scaleX(0.59)">m</b></i></div>
<div class="t" style="left:65px;top:243px;width:48px;height:19px;line-height:19px;color:#3a3a3a;--co:.6;"><u>单层</u>1<i class="d">.</i>5</div>
<div class="t" style="left:113px;top:243px;width:39.5px;height:19px;line-height:19px;">0</div>
<div class="t" style="left:152.5px;top:243px;width:52.5px;height:19px;line-height:19px;">1000</div>
<div class="t" style="left:205px;top:243px;width:54px;height:19px;line-height:19px;">1000</div>
<div class="t" style="left:259px;top:243px;width:55px;height:19px;line-height:19px;">10000</div>
<div class="t" style="left:314px;top:243px;width:54px;height:19px;line-height:19px;">10000</div>
<div class="t" style="left:368px;top:243px;width:40px;height:19px;line-height:19px;">650</div>
<div class="t" style="left:408px;top:243px;width:54px;height:19px;line-height:19px;">10000</div>
<div class="t" style="left:462px;top:243px;width:35.5px;height:19px;line-height:19px;"><s>4</s></div>
<div class="t" style="left:497.5px;top:243px;width:55.0px;height:19px;line-height:19px;">0<i class="d">.</i>02</div>
<div class="t" style="left:552.5px;top:243px;width:49.5px;height:19px;line-height:19px;">0<i class="d">.</i>2</div>
<div class="t" style="left:602px;top:243px;width:41px;height:19px;line-height:19px;">270</div>
<div class="t" style="left:643px;top:243px;width:26px;height:19px;line-height:19px;">150</div>
<div class="t" style="left:669px;top:243px;width:31.5px;height:19px;line-height:19px;">99<i><b style="transform:scaleX(0.55)">%</b></i></div>
<div class="t" style="left:700.5px;top:243px;width:34.5px;height:19px;line-height:19px;">0<i class="d">.</i>5</div>
<div class="t" style="left:735px;top:243px;width:45px;height:19px;line-height:19px;">1<i class="d">.</i>6<i><b style="transform:scaleX(0.52)">M</b></i><i><b style="transform:scaleX(0.83)">P</b></i><i><b style="transform:scaleX(0.64)">A</b></i></div>
<div class="t" style="left:780px;top:243px;width:45.5px;height:19px;line-height:19px;">5000</div>
<div class="t" style="left:858px;top:243px;width:56px;height:19px;line-height:19px;color:#383838;"><u>直接穿孔</u></div>
<div class="t" style="left:32px;top:262px;width:33px;height:18px;line-height:18px;">2<i><b style="transform:scaleX(0.59)">m</b></i><i><b style="transform:scaleX(0.59)">m</b></i></div>
<div class="t" style="left:65px;top:262px;width:48px;height:18px;line-height:18px;color:#3a3a3a;--co:.6;"><u>单层</u>1<i class="d">.</i>5</div>
<div class="t" style="left:113px;top:262px;width:39.5px;height:18px;line-height:18px;"><i><b style="transform:scaleX(1.5);top:-.5px">-</b></i>1<i class="d">.</i>5</div>
<div class="t" style="left:152.5px;top:262px;width:52.5px;height:18px;line-height:18px;">1000</div>
<div class="t" style="left:205px;top:262px;width:54px;height:18px;line-height:18px;">1000</div>
<div class="t" style="left:259px;top:262px;width:55px;height:18px;line-height:18px;">10000</div>
<div class="t" style="left:314px;top:262px;width:54px;height:18px;line-height:18px;">10000</div>
<div class="t" style="left:368px;top:262px;width:40px;height:18px;line-height:18px;">650</div>
<div class="t" style="left:408px;top:262px;width:54px;height:18px;line-height:18px;">6000</div>
<div class="t" style="left:462px;top:262px;width:35.5px;height:18px;line-height:18px;"><s>4</s></div>
<div class="t" style="left:497.5px;top:262px;width:55.0px;height:18px;line-height:18px;">0<i class="d">.</i>02</div>
<div class="t" style="left:552.5px;top:262px;width:49.5px;height:18px;line-height:18px;">0<i class="d">.</i>2</div>
<div class="t" style="left:602px;top:262px;width:41px;height:18px;line-height:18px;">90</div>
<div class="t" style="left:643px;top:262px;width:26px;height:18px;line-height:18px;">100</div>
<div class="t" style="left:669px;top:262px;width:31.5px;height:18px;line-height:18px;">99<i><b style="transform:scaleX(0.55)">%</b></i></div>
<div class="t" style="left:700.5px;top:262px;width:34.5px;height:18px;line-height:18px;">0<i class="d">.</i>5</div>
<div class="t" style="left:735px;top:262px;width:45px;height:18px;line-height:18px;">2<i class="d">.</i>0<i><b style="transform:scaleX(0.52)">M</b></i><i><b style="transform:scaleX(0.83)">P</b></i><i><b style="transform:scaleX(0.64)">A</b></i></div>
<div class="t" style="left:780px;top:262px;width:45.5px;height:18px;line-height:18px;">5000</div>
<div class="t" style="left:858px;top:262px;width:56px;height:18px;line-height:18px;color:#383838;"><u>直接穿孔</u></div>
<div class="t" style="left:32px;top:280px;width:33px;height:19px;line-height:19px;">3<i><b style="transform:scaleX(0.59)">m</b></i><i><b style="transform:scaleX(0.59)">m</b></i></div>
<div class="t" style="left:65px;top:280px;width:48px;height:19px;line-height:19px;color:#3a3a3a;--co:.6;"><u>单层</u>2<i class="d">.</i>0</div>
<div class="t" style="left:113px;top:280px;width:39.5px;height:19px;line-height:19px;"><i><b style="transform:scaleX(1.5);top:-.5px">-</b></i>2<i class="d">.</i>5</div>
<div class="t" style="left:152.5px;top:280px;width:52.5px;height:19px;line-height:19px;">1000</div>
<div class="t" style="left:205px;top:280px;width:54px;height:19px;line-height:19px;">1000</div>
<div class="t" style="left:259px;top:280px;width:55px;height:19px;line-height:19px;">10000</div>
<div class="t" style="left:314px;top:280px;width:54px;height:19px;line-height:19px;">10000</div>
<div class="t" style="left:368px;top:280px;width:40px;height:19px;line-height:19px;">650</div>
<div class="t" style="left:408px;top:280px;width:54px;height:19px;line-height:19px;">6000</div>
<div class="t" style="left:462px;top:280px;width:35.5px;height:19px;line-height:19px;"><s>4</s></div>
<div class="t" style="left:497.5px;top:280px;width:55.0px;height:19px;line-height:19px;">0<i class="d">.</i>015</div>
<div class="t" style="left:552.5px;top:280px;width:49.5px;height:19px;line-height:19px;">0<i class="d">.</i>2</div>
<div class="t" style="left:602px;top:280px;width:41px;height:19px;line-height:19px;">50</div>
<div class="t" style="left:643px;top:280px;width:26px;height:19px;line-height:19px;">100</div>
<div class="t" style="left:669px;top:280px;width:31.5px;height:19px;line-height:19px;">99<i><b style="transform:scaleX(0.55)">%</b></i></div>
<div class="t" style="left:700.5px;top:280px;width:34.5px;height:19px;line-height:19px;">0<i class="d">.</i>5</div>
<div class="t" style="left:735px;top:280px;width:45px;height:19px;line-height:19px;">2<i class="d">.</i>0<i><b style="transform:scaleX(0.52)">M</b></i><i><b style="transform:scaleX(0.83)">P</b></i><i><b style="transform:scaleX(0.64)">A</b></i></div>
<div class="t" style="left:780px;top:280px;width:45.5px;height:19px;line-height:19px;">5000</div>
<div class="t" style="left:858px;top:280px;width:56px;height:19px;line-height:19px;color:#383838;"><u>渐进穿孔</u></div>
<div class="t" style="left:32px;top:299px;width:33px;height:19px;line-height:19px;"><s>4</s><i><b style="transform:scaleX(0.59)">m</b></i><i><b style="transform:scaleX(0.59)">m</b></i></div>
<div class="t" style="left:65px;top:299px;width:48px;height:19px;line-height:19px;color:#3a3a3a;--co:.6;"><u>单层</u>2<i class="d">.</i>0</div>
<div class="t" style="left:113px;top:299px;width:39.5px;height:19px;line-height:19px;"><i><b style="transform:scaleX(1.5);top:-.5px">-</b></i>3</div>
<div class="t" style="left:152.5px;top:299px;width:52.5px;height:19px;line-height:19px;">1000</div>
<div class="t" style="left:205px;top:299px;width:54px;height:19px;line-height:19px;">1000</div>
<div class="t" style="left:259px;top:299px;width:55px;height:19px;line-height:19px;">10000</div>
<div class="t" style="left:314px;top:299px;width:54px;height:19px;line-height:19px;">10000</div>
<div class="t" style="left:368px;top:299px;width:40px;height:19px;line-height:19px;">650</div>
<div class="t" style="left:408px;top:299px;width:54px;height:19px;line-height:19px;">3000</div>
<div class="t" style="left:462px;top:299px;width:35.5px;height:19px;line-height:19px;"><s>4</s></div>
<div class="t" style="left:497.5px;top:299px;width:55.0px;height:19px;line-height:19px;">0<i class="d">.</i>015</div>
<div class="t" style="left:552.5px;top:299px;width:49.5px;height:19px;line-height:19px;">0<i class="d">.</i>2</div>
<div class="t" style="left:602px;top:299px;width:41px;height:19px;line-height:19px;">20</div>
<div class="t" style="left:643px;top:299px;width:26px;height:19px;line-height:19px;">100</div>
<div class="t" style="left:669px;top:299px;width:31.5px;height:19px;line-height:19px;">99<i><b style="transform:scaleX(0.55)">%</b></i></div>
<div class="t" style="left:700.5px;top:299px;width:34.5px;height:19px;line-height:19px;">0<i class="d">.</i>5</div>
<div class="t" style="left:735px;top:299px;width:45px;height:19px;line-height:19px;">2<i class="d">.</i>0<i><b style="transform:scaleX(0.52)">M</b></i><i><b style="transform:scaleX(0.83)">P</b></i><i><b style="transform:scaleX(0.64)">A</b></i></div>
<div class="t" style="left:780px;top:299px;width:45.5px;height:19px;line-height:19px;">5000</div>
<div class="t" style="left:858px;top:299px;width:56px;height:19px;line-height:19px;color:#383838;"><u>渐进穿孔</u></div>
<div class="t" style="left:32px;top:318px;width:33px;height:19px;line-height:19px;">5<i><b style="transform:scaleX(0.59)">m</b></i><i><b style="transform:scaleX(0.59)">m</b></i></div>
<div class="t" style="left:65px;top:318px;width:48px;height:19px;line-height:19px;color:#3a3a3a;--co:.6;"><u>单层</u>2<i class="d">.</i>5</div>
<div class="t" style="left:113px;top:318px;width:39.5px;height:19px;line-height:19px;"><i><b style="transform:scaleX(1.5);top:-.5px">-</b></i>3<i class="d">.</i>5</div>
<div class="t" style="left:152.5px;top:318px;width:52.5px;height:19px;line-height:19px;">1000</div>
<div class="t" style="left:205px;top:318px;width:54px;height:19px;line-height:19px;">1000</div>
<div class="t" style="left:259px;top:318px;width:55px;height:19px;line-height:19px;">10000</div>
<div class="t" style="left:314px;top:318px;width:54px;height:19px;line-height:19px;">10000</div>
<div class="t" style="left:368px;top:318px;width:40px;height:19px;line-height:19px;">650</div>
<div class="t" style="left:408px;top:318px;width:54px;height:19px;line-height:19px;">3000</div>
<div class="t" style="left:462px;top:318px;width:35.5px;height:19px;line-height:19px;"><s>4</s></div>
<div class="t" style="left:497.5px;top:318px;width:55.0px;height:19px;line-height:19px;">0<i class="d">.</i>015</div>
<div class="t" style="left:552.5px;top:318px;width:49.5px;height:19px;line-height:19px;">0<i class="d">.</i>2</div>
<div class="t" style="left:602px;top:318px;width:41px;height:19px;line-height:19px;">12</div>
<div class="t" style="left:643px;top:318px;width:26px;height:19px;line-height:19px;">100</div>
<div class="t" style="left:669px;top:318px;width:31.5px;height:19px;line-height:19px;">99<i><b style="transform:scaleX(0.55)">%</b></i></div>
<div class="t" style="left:700.5px;top:318px;width:34.5px;height:19px;line-height:19px;">0<i class="d">.</i>5</div>
<div class="t" style="left:735px;top:318px;width:45px;height:19px;line-height:19px;">2<i class="d">.</i>0<i><b style="transform:scaleX(0.52)">M</b></i><i><b style="transform:scaleX(0.83)">P</b></i><i><b style="transform:scaleX(0.64)">A</b></i></div>
<div class="t" style="left:780px;top:318px;width:45.5px;height:19px;line-height:19px;">5000</div>
<div class="t" style="left:858px;top:318px;width:56px;height:19px;line-height:19px;color:#383838;"><u>渐进穿孔</u></div>
<div class="t" style="left:32px;top:337px;width:33px;height:19px;line-height:19px;">1<i><b style="transform:scaleX(0.59)">m</b></i><i><b style="transform:scaleX(0.59)">m</b></i></div>
<div class="t" style="left:65px;top:337px;width:48px;height:19px;line-height:19px;color:#3a3a3a;--co:.6;"><u>双层</u>1<i class="d">.</i>5</div>
<div class="t" style="left:113px;top:337px;width:39.5px;height:19px;line-height:19px;">0</div>
<div class="t" style="left:152.5px;top:337px;width:52.5px;height:19px;line-height:19px;">1000</div>
<div class="t" style="left:205px;top:337px;width:54px;height:19px;line-height:19px;">1000</div>
<div class="t" style="left:259px;top:337px;width:55px;height:19px;line-height:19px;">10000</div>
<div class="t" style="left:314px;top:337px;width:54px;height:19px;line-height:19px;">10000</div>
<div class="t" style="left:368px;top:337px;width:40px;height:19px;line-height:19px;">650</div>
<div class="t" style="left:408px;top:337px;width:54px;height:19px;line-height:19px;">6000</div>
<div class="t" style="left:462px;top:337px;width:35.5px;height:19px;line-height:19px;"><s>4</s></div>
<div class="t" style="left:497.5px;top:337px;width:55.0px;height:19px;line-height:19px;">0<i class="d">.</i>02</div>
<div class="t" style="left:552.5px;top:337px;width:49.5px;height:19px;line-height:19px;">0<i class="d">.</i>2</div>
<div class="t" style="left:602px;top:337px;width:41px;height:19px;line-height:19px;">350</div>
<div class="t" style="left:643px;top:337px;width:26px;height:19px;line-height:19px;">150</div>
<div class="t" style="left:669px;top:337px;width:31.5px;height:19px;line-height:19px;">99<i><b style="transform:scaleX(0.55)">%</b></i></div>
<div class="t" style="left:700.5px;top:337px;width:34.5px;height:19px;line-height:19px;">0<i class="d">.</i>5</div>
<div class="t" style="left:735px;top:337px;width:45px;height:19px;line-height:19px;">6</div>
<div class="t" style="left:780px;top:337px;width:45.5px;height:19px;line-height:19px;">5000</div>
<div class="t" style="left:858px;top:337px;width:56px;height:19px;line-height:19px;color:#383838;"><u>直接穿孔</u></div>
<div class="t" style="left:32px;top:356px;width:33px;height:19px;line-height:19px;">2<i><b style="transform:scaleX(0.59)">m</b></i><i><b style="transform:scaleX(0.59)">m</b></i></div>
<div class="t" style="left:65px;top:356px;width:48px;height:19px;line-height:19px;color:#3a3a3a;--co:.6;"><u>双层</u>2<i class="d">.</i>0</div>
<div class="t" style="left:113px;top:356px;width:39.5px;height:19px;line-height:19px;">1</div>
<div class="t" style="left:152.5px;top:356px;width:52.5px;height:19px;line-height:19px;">1000</div>
<div class="t" style="left:205px;top:356px;width:54px;height:19px;line-height:19px;">1000</div>
<div class="t" style="left:259px;top:356px;width:55px;height:19px;line-height:19px;">10000</div>
<div class="t" style="left:314px;top:356px;width:54px;height:19px;line-height:19px;">10000</div>
<div class="t" style="left:368px;top:356px;width:40px;height:19px;line-height:19px;">650</div>
<div class="t" style="left:408px;top:356px;width:54px;height:19px;line-height:19px;">6000</div>
<div class="t" style="left:462px;top:356px;width:35.5px;height:19px;line-height:19px;"><s>4</s></div>
<div class="t" style="left:497.5px;top:356px;width:55.0px;height:19px;line-height:19px;">0<i class="d">.</i>015</div>
<div class="t" style="left:552.5px;top:356px;width:49.5px;height:19px;line-height:19px;">0<i class="d">.</i>2</div>
<div class="t" style="left:602px;top:356px;width:41px;height:19px;line-height:19px;">120</div>
<div class="t" style="left:643px;top:356px;width:26px;height:19px;line-height:19px;">100</div>
<div class="t" style="left:669px;top:356px;width:31.5px;height:19px;line-height:19px;">99<i><b style="transform:scaleX(0.55)">%</b></i></div>
<div class="t" style="left:700.5px;top:356px;width:34.5px;height:19px;line-height:19px;">0<i class="d">.</i>5</div>
<div class="t" style="left:735px;top:356px;width:45px;height:19px;line-height:19px;">6</div>
<div class="t" style="left:780px;top:356px;width:45.5px;height:19px;line-height:19px;">5000</div>
<div class="t" style="left:858px;top:356px;width:56px;height:19px;line-height:19px;color:#383838;"><u>分段穿孔</u></div>
<div class="t" style="left:32px;top:375px;width:33px;height:19px;line-height:19px;">3<i><b style="transform:scaleX(0.59)">m</b></i><i><b style="transform:scaleX(0.59)">m</b></i></div>
<div class="t" style="left:65px;top:375px;width:48px;height:19px;line-height:19px;color:#3a3a3a;--co:.6;"><u>双层</u>2<i class="d">.</i>0</div>
<div class="t" style="left:113px;top:375px;width:39.5px;height:19px;line-height:19px;">1</div>
<div class="t" style="left:152.5px;top:375px;width:52.5px;height:19px;line-height:19px;">1000</div>
<div class="t" style="left:205px;top:375px;width:54px;height:19px;line-height:19px;">1000</div>
<div class="t" style="left:259px;top:375px;width:55px;height:19px;line-height:19px;">10000</div>
<div class="t" style="left:314px;top:375px;width:54px;height:19px;line-height:19px;">10000</div>
<div class="t" style="left:368px;top:375px;width:40px;height:19px;line-height:19px;">650</div>
<div class="t" style="left:408px;top:375px;width:54px;height:19px;line-height:19px;">6000</div>
<div class="t" style="left:462px;top:375px;width:35.5px;height:19px;line-height:19px;"><s>4</s></div>
<div class="t" style="left:497.5px;top:375px;width:55.0px;height:19px;line-height:19px;">0<i class="d">.</i>015</div>
<div class="t" style="left:552.5px;top:375px;width:49.5px;height:19px;line-height:19px;">0<i class="d">.</i>2</div>
<div class="t" style="left:602px;top:375px;width:41px;height:19px;line-height:19px;">80</div>
<div class="t" style="left:643px;top:375px;width:26px;height:19px;line-height:19px;">100</div>
<div class="t" style="left:669px;top:375px;width:31.5px;height:19px;line-height:19px;">99<i><b style="transform:scaleX(0.55)">%</b></i></div>
<div class="t" style="left:700.5px;top:375px;width:34.5px;height:19px;line-height:19px;">0<i class="d">.</i>6</div>
<div class="t" style="left:735px;top:375px;width:45px;height:19px;line-height:19px;">5</div>
<div class="t" style="left:780px;top:375px;width:45.5px;height:19px;line-height:19px;">5000</div>
<div class="t" style="left:858px;top:375px;width:56px;height:19px;line-height:19px;color:#383838;"><u>渐进穿孔</u></div>
<div class="t" style="left:32px;top:394px;width:33px;height:18px;line-height:18px;"><s>4</s><i><b style="transform:scaleX(0.59)">m</b></i><i><b style="transform:scaleX(0.59)">m</b></i></div>
<div class="t" style="left:65px;top:394px;width:48px;height:18px;line-height:18px;color:#3a3a3a;--co:.6;"><u>双层</u>2<i class="d">.</i>0</div>
<div class="t" style="left:113px;top:394px;width:39.5px;height:18px;line-height:18px;">1<i class="d">.</i>5</div>
<div class="t" style="left:152.5px;top:394px;width:52.5px;height:18px;line-height:18px;">1000</div>
<div class="t" style="left:205px;top:394px;width:54px;height:18px;line-height:18px;">1000</div>
<div class="t" style="left:259px;top:394px;width:55px;height:18px;line-height:18px;">10000</div>
<div class="t" style="left:314px;top:394px;width:54px;height:18px;line-height:18px;">10000</div>
<div class="t" style="left:368px;top:394px;width:40px;height:18px;line-height:18px;">650</div>
<div class="t" style="left:408px;top:394px;width:54px;height:18px;line-height:18px;"><s>4</s>000</div>
<div class="t" style="left:462px;top:394px;width:35.5px;height:18px;line-height:18px;"><s>4</s></div>
<div class="t" style="left:497.5px;top:394px;width:55.0px;height:18px;line-height:18px;">0<i class="d">.</i>015</div>
<div class="t" style="left:552.5px;top:394px;width:49.5px;height:18px;line-height:18px;">0<i class="d">.</i>2</div>
<div class="t" style="left:602px;top:394px;width:41px;height:18px;line-height:18px;"><s>4</s>0</div>
<div class="t" style="left:643px;top:394px;width:26px;height:18px;line-height:18px;">100</div>
<div class="t" style="left:669px;top:394px;width:31.5px;height:18px;line-height:18px;">99<i><b style="transform:scaleX(0.55)">%</b></i></div>
<div class="t" style="left:700.5px;top:394px;width:34.5px;height:18px;line-height:18px;">0<i class="d">.</i>6</div>
<div class="t" style="left:735px;top:394px;width:45px;height:18px;line-height:18px;"><s>4</s></div>
<div class="t" style="left:780px;top:394px;width:45.5px;height:18px;line-height:18px;">5000</div>
<div class="t" style="left:858px;top:394px;width:56px;height:18px;line-height:18px;color:#383838;"><u>渐进穿孔</u></div>
<div class="t" style="left:32px;top:412px;width:33px;height:19px;line-height:19px;">5<i><b style="transform:scaleX(0.59)">m</b></i><i><b style="transform:scaleX(0.59)">m</b></i></div>
<div class="t" style="left:65px;top:412px;width:48px;height:19px;line-height:19px;color:#3a3a3a;--co:.6;"><u>双层</u>2<i class="d">.</i>0</div>
<div class="t" style="left:113px;top:412px;width:39.5px;height:19px;line-height:19px;">1<i class="d">.</i>5</div>
<div class="t" style="left:152.5px;top:412px;width:52.5px;height:19px;line-height:19px;">1000</div>
<div class="t" style="left:205px;top:412px;width:54px;height:19px;line-height:19px;">1000</div>
<div class="t" style="left:259px;top:412px;width:55px;height:19px;line-height:19px;">10000</div>
<div class="t" style="left:314px;top:412px;width:54px;height:19px;line-height:19px;">10000</div>
<div class="t" style="left:368px;top:412px;width:40px;height:19px;line-height:19px;">650</div>
<div class="t" style="left:408px;top:412px;width:54px;height:19px;line-height:19px;"><s>4</s>000</div>
<div class="t" style="left:462px;top:412px;width:35.5px;height:19px;line-height:19px;"><s>4</s></div>
<div class="t" style="left:497.5px;top:412px;width:55.0px;height:19px;line-height:19px;">0<i class="d">.</i>015</div>
<div class="t" style="left:552.5px;top:412px;width:49.5px;height:19px;line-height:19px;">0<i class="d">.</i>2</div>
<div class="t" style="left:602px;top:412px;width:41px;height:19px;line-height:19px;">35</div>
<div class="t" style="left:643px;top:412px;width:26px;height:19px;line-height:19px;">100</div>
<div class="t" style="left:669px;top:412px;width:31.5px;height:19px;line-height:19px;">99<i><b style="transform:scaleX(0.55)">%</b></i></div>
<div class="t" style="left:700.5px;top:412px;width:34.5px;height:19px;line-height:19px;">1</div>
<div class="t" style="left:735px;top:412px;width:45px;height:19px;line-height:19px;">3</div>
<div class="t" style="left:780px;top:412px;width:45.5px;height:19px;line-height:19px;">5000</div>
<div class="t" style="left:858px;top:412px;width:56px;height:19px;line-height:19px;color:#383838;"><u>渐进穿孔</u></div>
<div class="t" style="left:32px;top:431px;width:33px;height:19px;line-height:19px;">6<i><b style="transform:scaleX(0.59)">m</b></i><i><b style="transform:scaleX(0.59)">m</b></i></div>
<div class="t" style="left:65px;top:431px;width:48px;height:19px;line-height:19px;color:#3a3a3a;--co:.6;"><u>双层</u>2<i class="d">.</i>0</div>
<div class="t" style="left:113px;top:431px;width:39.5px;height:19px;line-height:19px;">2</div>
<div class="t" style="left:152.5px;top:431px;width:52.5px;height:19px;line-height:19px;">1000</div>
<div class="t" style="left:205px;top:431px;width:54px;height:19px;line-height:19px;">1000</div>
<div class="t" style="left:259px;top:431px;width:55px;height:19px;line-height:19px;">10000</div>
<div class="t" style="left:314px;top:431px;width:54px;height:19px;line-height:19px;">10000</div>
<div class="t" style="left:368px;top:431px;width:40px;height:19px;line-height:19px;">650</div>
<div class="t" style="left:408px;top:431px;width:54px;height:19px;line-height:19px;">3000</div>
<div class="t" style="left:462px;top:431px;width:35.5px;height:19px;line-height:19px;"><s>4</s></div>
<div class="t" style="left:497.5px;top:431px;width:55.0px;height:19px;line-height:19px;">0<i class="d">.</i>015</div>
<div class="t" style="left:552.5px;top:431px;width:49.5px;height:19px;line-height:19px;">0<i class="d">.</i>2</div>
<div class="t" style="left:602px;top:431px;width:41px;height:19px;line-height:19px;">20</div>
<div class="t" style="left:643px;top:431px;width:26px;height:19px;line-height:19px;">100</div>
<div class="t" style="left:669px;top:431px;width:31.5px;height:19px;line-height:19px;">99<i><b style="transform:scaleX(0.55)">%</b></i></div>
<div class="t" style="left:700.5px;top:431px;width:34.5px;height:19px;line-height:19px;">1</div>
<div class="t" style="left:735px;top:431px;width:45px;height:19px;line-height:19px;">2</div>
<div class="t" style="left:780px;top:431px;width:45.5px;height:19px;line-height:19px;">5000</div>
<div class="t" style="left:858px;top:431px;width:56px;height:19px;line-height:19px;color:#383838;"><u>渐进穿孔</u></div>
<div class="t" style="left:32px;top:450px;width:33px;height:18px;line-height:18px;">8<i><b style="transform:scaleX(0.59)">m</b></i><i><b style="transform:scaleX(0.59)">m</b></i></div>
<div class="t" style="left:65px;top:450px;width:48px;height:18px;line-height:18px;color:#3a3a3a;--co:.6;"><u>双层</u>2<i class="d">.</i>0</div>
<div class="t" style="left:113px;top:450px;width:39.5px;height:18px;line-height:18px;">2<i class="d">.</i>5</div>
<div class="t" style="left:152.5px;top:450px;width:52.5px;height:18px;line-height:18px;">1000</div>
<div class="t" style="left:205px;top:450px;width:54px;height:18px;line-height:18px;">1000</div>
<div class="t" style="left:259px;top:450px;width:55px;height:18px;line-height:18px;">10000</div>
<div class="t" style="left:314px;top:450px;width:54px;height:18px;line-height:18px;">10000</div>
<div class="t" style="left:368px;top:450px;width:40px;height:18px;line-height:18px;">650</div>
<div class="t" style="left:408px;top:450px;width:54px;height:18px;line-height:18px;">3000</div>
<div class="t" style="left:462px;top:450px;width:35.5px;height:18px;line-height:18px;"><s>4</s></div>
<div class="t" style="left:497.5px;top:450px;width:55.0px;height:18px;line-height:18px;">0<i class="d">.</i>015</div>
<div class="t" style="left:552.5px;top:450px;width:49.5px;height:18px;line-height:18px;">0<i class="d">.</i>2</div>
<div class="t" style="left:602px;top:450px;width:41px;height:18px;line-height:18px;">15</div>
<div class="t" style="left:643px;top:450px;width:26px;height:18px;line-height:18px;">100</div>
<div class="t" style="left:669px;top:450px;width:31.5px;height:18px;line-height:18px;">99<i><b style="transform:scaleX(0.55)">%</b></i></div>
<div class="t" style="left:700.5px;top:450px;width:34.5px;height:18px;line-height:18px;">1</div>
<div class="t" style="left:735px;top:450px;width:45px;height:18px;line-height:18px;">2</div>
<div class="t" style="left:780px;top:450px;width:45.5px;height:18px;line-height:18px;">5000</div>
<div class="t" style="left:858px;top:450px;width:56px;height:18px;line-height:18px;color:#383838;"><u>三级穿孔</u></div></div>
</body></html>
